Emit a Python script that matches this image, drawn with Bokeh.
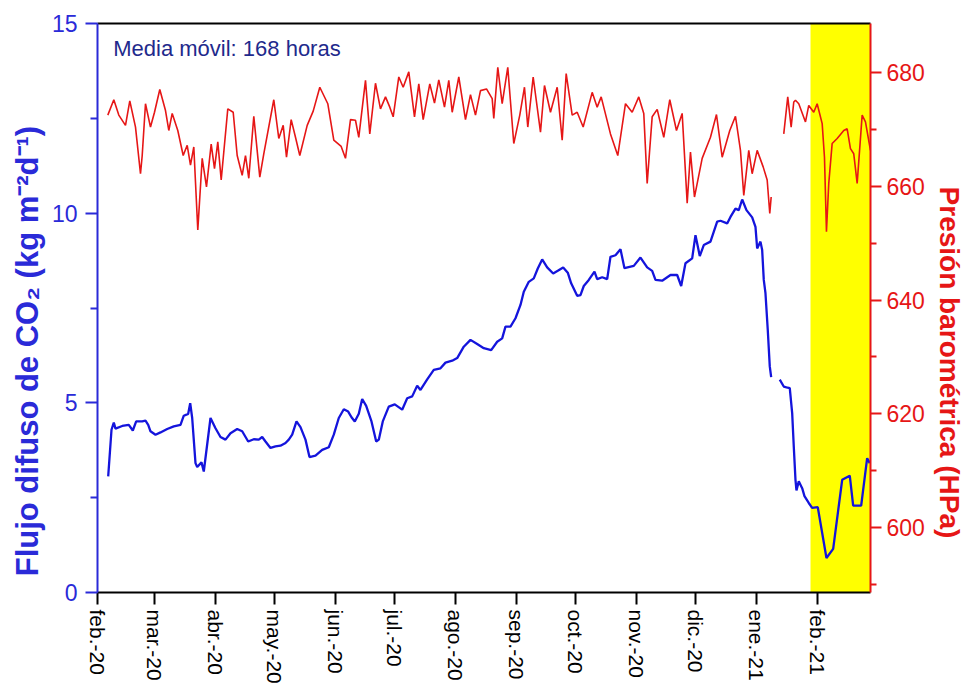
import numpy as np
import pandas as pd
from bokeh.plotting import figure
from bokeh.models import Range1d, LinearAxis, FixedTicker, BoxAnnotation, Label, ColumnDataSource
from bokeh.embed import file_html
from bokeh.resources import INLINE

# ---------------- data ----------------
START = pd.Timestamp("2020-02-01")
END = pd.Timestamp("2021-02-28")
HIGHLIGHT_START = pd.Timestamp("2021-01-28 12:00")

month_dates = pd.date_range("2020-02-01", "2021-02-01", freq="MS")
month_labels = ["feb.-20", "mar.-20", "abr.-20", "may.-20", "jun.-20", "jul.-20",
                "ago.-20", "sep.-20", "oct.-20", "nov.-20", "dic.-20", "ene.-21", "feb.-21"]

left_ticks = [0, 5, 10, 15]
left_minor = [2.5, 7.5, 12.5]
right_ticks = [600, 620, 640, 660, 680]
right_minor = [590, 610, 630, 650, 670]

nan = float("nan")

# CO2 diffuse flux (168 h moving average), days since 2020-02-01
flux_day = [5.44, 7.12, 8.29, 9.15, 12.56, 15.91, 17.95, 19.67, 22.73, 24.4, 25.78, 26.94,
            29.49, 32.03, 35.43, 38.79, 42.2, 43.87, 46.11, 47.13, 48.14, 49.82, 50.69, 52.87,
            54.04, 57.45, 59.99, 62.53, 65.07, 67.62, 71.02, 73.56, 76.61, 79.46, 82.0, 83.73,
            85.41, 87.95, 90.49, 93.04, 95.58, 97.25, 98.98, 101.17, 103.2, 105.74, 107.78,
            110.83, 114.23, 117.59, 120.13, 122.67, 125.22, 127.45, 129.13, 130.81, 132.84,
            134.57, 136.6, 139.3, 141.69, 143.01, 145.04, 148.09, 151.14, 154.9, 157.45,
            159.99, 162.53, 164.21, 167.62, 170.97, 174.38, 176.92, 180.33, 182.87, 186.22,
            189.63, 193.03, 196.39, 200.15, 203.2, 205.74, 207.42, 209.96, 212.51, 215.05,
            216.73, 219.27, 221.81, 223.84, 226.08, 228.62, 231.67, 234.01, 236.76, 239.09,
            240.82, 243.87, 245.55, 247.23, 249.77, 252.67, 254.04, 256.58, 259.13, 260.8,
            263.35, 265.89, 267.92, 272.65, 276.05, 279.46, 282.0, 283.68, 287.09, 291.31,
            294.71, 296.75, 298.93, 302.34, 304.02, 306.2, 308.24, 311.64, 315.05, 316.73,
            320.13, 321.81, 324.35, 326.03, 327.76, 329.94, 332.84, 334.52, 335.38, 337.06,
            337.92, 338.74, 339.6, 340.77, 341.79, 342.5, 345.0, 346.87, 348.9, 350.28,
            351.96, 353.18, 353.99, 354.86, 355.36, 356.53, 358.26, 359.43, 361.61, 363.34,
            366.19, 370.61, 374.02, 378.6, 382.46, 384.19, 388.26, 391.3, 392.63]
flux_val = [3.06, 4.29, 4.48, 4.32, 4.39, 4.42, 4.27, 4.51, 4.51, 4.53, 4.42, 4.25,
            4.16, 4.22, 4.31, 4.38, 4.42, 4.66, 4.71, 4.99, 4.60, 3.41, 3.31, 3.43,
            3.19, 4.60, 4.33, 4.10, 4.03, 4.20, 4.31, 4.25, 3.98, 4.04, 4.03, 4.10,
            3.98, 3.81, 3.85, 3.87, 3.94, 4.03, 4.16, 4.51, 4.36, 4.03, 3.57,
            3.61, 3.76, 3.83, 4.16, 4.60, 4.83, 4.77, 4.62, 4.51, 4.71,
            5.10, 4.92, 4.51, 3.98, 4.03, 4.51, 4.90, 4.96, 4.82, 5.12,
            5.17, 5.45, 5.34, 5.62, 5.87, 5.91, 6.06, 6.11, 6.18, 6.48,
            6.66, 6.55, 6.44, 6.39, 6.61, 6.70, 7.01, 7.01, 7.23, 7.58,
            7.93, 8.19, 8.28, 8.54, 8.78, 8.57, 8.41, 8.48, 8.57, 8.43,
            8.15, 7.82, 7.84, 8.08, 8.24, 8.46, 8.26, 8.31, 8.26, 8.85,
            8.89, 9.05, 8.55, 8.61, 8.83, 8.57, 8.48, 8.24, 8.22, 8.37,
            8.37, 8.08, 8.68, 8.81, 9.42, 8.87, 9.16, 9.25, 9.78, 9.80,
            9.73, 9.90, 10.12, 10.08, 10.36, 10.08, 9.89, 9.64, 9.07, 9.25,
            9.03, 8.24, 7.89, 6.92, 5.96, 5.68, nan, 5.61, 5.43, 5.41,
            5.39, 4.73, 3.85, 2.97, 2.69, 2.93, 2.75, 2.54, 2.36, 2.23,
            2.25, 0.91, 1.15, 2.97, 3.08, 2.29, 2.29, 3.54, 3.41]

# Barometric pressure (hPa), days since 2020-02-01
pres_day = [5.24, 8.29, 10.83, 14.23, 16.42, 19.32, 21.86, 22.73, 24.4, 26.94, 28.98, 31.67,
            34.57, 36.25, 37.98, 40.82, 43.57, 45.6, 47.28, 48.96, 50.99, 53.23, 55.41, 57.8,
            59.48, 61.16, 62.89, 66.24, 68.99, 71.02, 73.56, 75.24, 76.92, 79.46, 82.51, 84.54,
            89.63, 92.17, 94.41, 96.09, 98.47, 100.66, 102.85, 106.61, 109.66, 113.02, 117.08,
            120.13, 123.89, 126.08, 128.62, 131.16, 132.84, 136.25, 138.43, 141.33, 143.87,
            146.42, 148.6, 150.33, 153.18, 155.41, 158.26, 161.16, 163.35, 165.58, 168.94,
            171.33, 173.51, 176.41, 178.6, 180.33, 183.68, 187.09, 189.63, 192.17, 194.71,
            197.76, 200.66, 201.47, 203.51, 205.74, 208.59, 211.64, 214.69, 217.08, 218.76,
            221.5, 225.22, 227.25, 230.3, 233.71, 236.25, 238.28, 241.33, 243.87, 246.92,
            251.5, 254.04, 256.07, 260.8, 264.51, 268.43, 271.83, 275.19, 277.73, 279.46,
            282.0, 284.55, 287.9, 290.95, 294.36, 297.25, 299.8, 301.47, 303.51, 307.42,
            311.64, 314.69, 317.59, 321.45, 324.35, 326.89, 328.57, 331.11, 332.84, 335.38,
            338.43, 340.47, 341.79, 342.5, 345.0, 348.9, 350.93, 352.66, 353.99, 354.86,
            356.53, 359.94, 361.61, 364.15, 365.88, 368.43, 369.6, 370.61, 371.78, 373.5,
            376.05, 379.41, 381.13, 382.81, 384.49, 386.22, 388.76, 390.44, 392.98]
pres_val = [672.5, 675.2, 672.5, 670.7, 675.0, 670.4, 662.2, 665.4, 674.5, 670.4, 673.0, 677.0,
            673.3, 669.8, 672.8, 669.8, 665.4, 667.2, 663.7, 666.9, 652.3, 664.9, 659.9, 667.4,
            663.1, 667.8, 661.1, 673.6, 673.0, 665.4, 661.9, 665.4, 661.4, 672.3, 661.6, 665.7,
            675.2, 668.4, 670.7, 665.1, 671.7, 668.6, 665.4, 670.7, 673.2, 677.4, 674.5,
            668.1, 667.0, 664.9, 671.7, 671.6, 668.6, 678.6, 669.2, 678.1, 673.6,
            675.7, 673.9, 672.2, 679.2, 677.4, 680.1, 672.2, 678.0, 671.7, 678.0,
            674.6, 678.7, 673.9, 678.6, 673.0, 679.2, 671.7, 676.1, 672.5, 676.8,
            677.1, 675.4, 671.9, 680.9, 674.5, 680.9, 667.5, 672.5, 677.4, 670.4,
            679.2, 669.5, 677.7, 673.0, 677.4, 668.1, 679.8, 672.5, 673.0, 670.4,
            676.5, 673.9, 675.7, 669.2, 665.4, 674.5, 673.0, 675.7, 672.8, 660.5,
            672.2, 673.5, 668.6, 675.2, 669.8, 672.8, 657.0, 666.0, 658.1, 664.9,
            668.6, 672.6, 665.1, 669.8, 672.3, 666.3, 658.4, 666.3, 662.2, 666.3,
            663.4, 661.1, 655.2, 658.1, nan, 669.2, 675.7, 670.4, 674.8, 675.1,
            674.5, 671.3, 674.2, 673.0, 674.5, 671.0, 665.1, 652.0, 660.5, 667.5,
            668.4, 669.8, 670.1, 666.6, 665.7, 660.5, 672.5, 671.3, 666.3]


def to_ms(ts):
    return pd.Timestamp(ts).value / 1e6


flux_src = ColumnDataSource(dict(
    t=START + pd.to_timedelta(np.array(flux_day), unit="D"),
    v=np.array(flux_val, dtype=float)))
pres_src = ColumnDataSource(dict(
    t=START + pd.to_timedelta(np.array(pres_day), unit="D"),
    v=np.array(pres_val, dtype=float)))

# ---------------- figure ----------------
FONT = "Liberation Sans"
BLUE = "#1414dc"
AXBLUE = "#2a2ad8"
RED = "#e61616"
NB = "\u00a0"

p = figure(width=968, height=686, x_axis_type="datetime",
           x_range=Range1d(to_ms(START), to_ms(END)), y_range=Range1d(0, 15),
           output_backend="svg", toolbar_location=None,
           min_border_left=97, min_border_right=98, min_border_top=23, min_border_bottom=93)
p.outline_line_color = None
p.xgrid.visible = False
p.ygrid.visible = False
p.background_fill_color = "white"
p.border_fill_color = "white"
p.extra_y_ranges = {"pres": Range1d(588.6, 688.6)}

p.add_layout(BoxAnnotation(left=to_ms(HIGHLIGHT_START), right=to_ms(END),
                           fill_color="#ffff00", fill_alpha=1.0, line_color=None,
                           level="underlay"))

p.line("t", "v", source=flux_src, line_color=BLUE, line_width=2.3)
p.line("t", "v", source=pres_src, y_range_name="pres", line_color=RED, line_width=1.6)

# bottom axis
xa = p.xaxis[0]
xa.ticker = FixedTicker(ticks=[to_ms(d) for d in month_dates], minor_ticks=[])
xa.major_label_overrides = {to_ms(d): lab for d, lab in zip(month_dates, month_labels)}
xa.major_label_orientation = "vertical"
xa.major_label_text_font = FONT
xa.major_label_text_font_size = "21px"
xa.major_label_text_color = "black"
xa.major_label_standoff = 5
xa.axis_line_color = "black"
xa.axis_line_width = 2
xa.major_tick_line_color = "black"
xa.major_tick_line_width = 2
xa.major_tick_out = 12
xa.major_tick_in = 0
xa.minor_tick_line_color = None

# left axis
ya = p.yaxis[0]
ya.ticker = FixedTicker(ticks=left_ticks, minor_ticks=left_minor)
ya.axis_label = "Flujo difuso de CO\u2082 (kg m\u207b\u00b2d\u207b\u00b9)" + NB * 10
ya.axis_label_text_font = FONT
ya.axis_label_text_font_style = "bold"
ya.axis_label_text_font_size = "31px"
ya.axis_label_text_color = AXBLUE
ya.axis_label_standoff = 4
ya.major_label_text_font = FONT
ya.major_label_text_font_size = "23px"
ya.major_label_text_color = AXBLUE
ya.major_label_standoff = 8
ya.axis_line_color = AXBLUE
ya.axis_line_width = 2
ya.major_tick_line_color = AXBLUE
ya.major_tick_line_width = 2
ya.major_tick_out = 12
ya.major_tick_in = 0
ya.minor_tick_line_color = AXBLUE
ya.minor_tick_line_width = 2
ya.minor_tick_out = 7
ya.minor_tick_in = 0

# right axis
ra = LinearAxis(y_range_name="pres",
                ticker=FixedTicker(ticks=right_ticks, minor_ticks=right_minor))
ra.axis_label = NB * 14 + "Presión barométrica (HPa)"
ra.axis_label_text_font = FONT
ra.axis_label_text_font_style = "bold"
ra.axis_label_text_font_size = "28px"
ra.axis_label_text_color = RED
ra.axis_label_standoff = 6
ra.major_label_text_font = FONT
ra.major_label_text_font_size = "23px"
ra.major_label_text_color = RED
ra.major_label_standoff = 5
ra.axis_line_color = RED
ra.axis_line_width = 2
ra.major_tick_line_color = RED
ra.major_tick_line_width = 2
ra.major_tick_out = 11
ra.major_tick_in = 0
ra.minor_tick_line_color = RED
ra.minor_tick_line_width = 2
ra.minor_tick_out = 6
ra.minor_tick_in = 0
p.add_layout(ra, "right")

# top frame line
ta = LinearAxis(ticker=FixedTicker(ticks=[], minor_ticks=[]))
ta.axis_line_color = "black"
ta.axis_line_width = 2
ta.major_label_text_font_size = "0px"
ta.major_tick_line_color = None
ta.minor_tick_line_color = None
p.add_layout(ta, "above")

p.add_layout(Label(x=to_ms(pd.Timestamp("2020-02-09")), y=14.34,
                   text="Media móvil: 168 horas", text_font=FONT,
                   text_font_size="22px", text_color="#1f2a8c",
                   text_baseline="middle", text_align="left"))

open("out.html", "w").write(file_html(p, INLINE))
